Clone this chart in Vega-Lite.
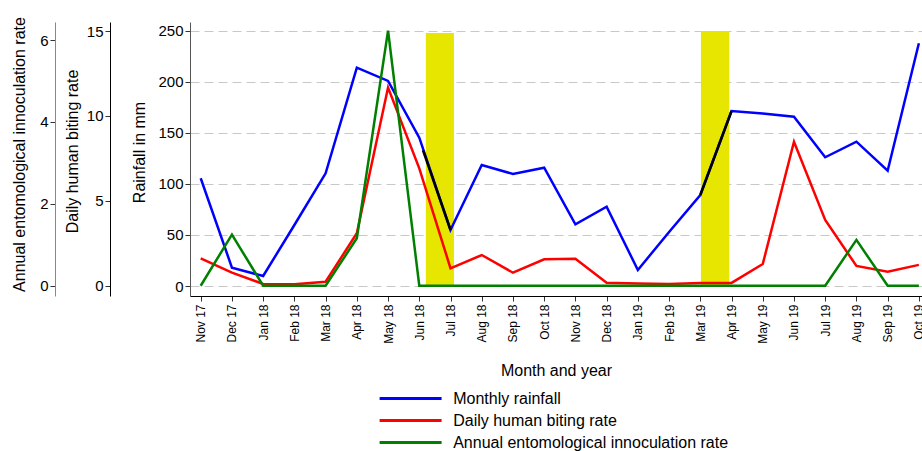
{
  "$schema": "https://vega.github.io/schema/vega-lite/v6.json",
  "width": 732,
  "height": 274,
  "autosize": {"type": "none"},
  "padding": {"left": 190, "top": 22, "right": 0, "bottom": 155},
  "config": {
    "font": "Liberation Sans",
    "view": {"stroke": null},
    "axis": {"labelColor": "#000", "titleColor": "#000", "tickColor": "#333", "titleFontWeight": "normal", "labelFont": "Liberation Sans", "titleFont": "Liberation Sans"},
    "legend": {"labelFont": "Liberation Sans"}
  },
  "datasets": {
    "rain": [
      {"t": 0, "series": "Monthly rainfall", "value": 105.6},
      {"t": 1, "series": "Monthly rainfall", "value": 18},
      {"t": 2, "series": "Monthly rainfall", "value": 9.8},
      {"t": 3, "series": "Monthly rainfall", "value": 59.8},
      {"t": 4, "series": "Monthly rainfall", "value": 110.5},
      {"t": 5, "series": "Monthly rainfall", "value": 214},
      {"t": 6, "series": "Monthly rainfall", "value": 201},
      {"t": 7, "series": "Monthly rainfall", "value": 145.4},
      {"t": 8, "series": "Monthly rainfall", "value": 54.9},
      {"t": 9, "series": "Monthly rainfall", "value": 118.6},
      {"t": 10, "series": "Monthly rainfall", "value": 109.8},
      {"t": 11, "series": "Monthly rainfall", "value": 116},
      {"t": 12, "series": "Monthly rainfall", "value": 60.5},
      {"t": 13, "series": "Monthly rainfall", "value": 77.7},
      {"t": 14, "series": "Monthly rainfall", "value": 15.7},
      {"t": 15, "series": "Monthly rainfall", "value": 53},
      {"t": 16, "series": "Monthly rainfall", "value": 89.2},
      {"t": 17, "series": "Monthly rainfall", "value": 171.6},
      {"t": 18, "series": "Monthly rainfall", "value": 169},
      {"t": 19, "series": "Monthly rainfall", "value": 166},
      {"t": 20, "series": "Monthly rainfall", "value": 126.2},
      {"t": 21, "series": "Monthly rainfall", "value": 141.5},
      {"t": 22, "series": "Monthly rainfall", "value": 113},
      {"t": 23, "series": "Monthly rainfall", "value": 238}
    ],
    "hbr": [
      {"t": 0, "series": "Daily human biting rate", "value": 1.63},
      {"t": 1, "series": "Daily human biting rate", "value": 0.78},
      {"t": 2, "series": "Daily human biting rate", "value": 0.12},
      {"t": 3, "series": "Daily human biting rate", "value": 0.1},
      {"t": 4, "series": "Daily human biting rate", "value": 0.25},
      {"t": 5, "series": "Daily human biting rate", "value": 3.1},
      {"t": 6, "series": "Daily human biting rate", "value": 11.67},
      {"t": 7, "series": "Daily human biting rate", "value": 6.92},
      {"t": 8, "series": "Daily human biting rate", "value": 1.04},
      {"t": 9, "series": "Daily human biting rate", "value": 1.82},
      {"t": 10, "series": "Daily human biting rate", "value": 0.78},
      {"t": 11, "series": "Daily human biting rate", "value": 1.57},
      {"t": 12, "series": "Daily human biting rate", "value": 1.6},
      {"t": 13, "series": "Daily human biting rate", "value": 0.19},
      {"t": 14, "series": "Daily human biting rate", "value": 0.14},
      {"t": 15, "series": "Daily human biting rate", "value": 0.12},
      {"t": 16, "series": "Daily human biting rate", "value": 0.18},
      {"t": 17, "series": "Daily human biting rate", "value": 0.18},
      {"t": 18, "series": "Daily human biting rate", "value": 1.29},
      {"t": 19, "series": "Daily human biting rate", "value": 8.49},
      {"t": 20, "series": "Daily human biting rate", "value": 3.88},
      {"t": 21, "series": "Daily human biting rate", "value": 1.18},
      {"t": 22, "series": "Daily human biting rate", "value": 0.84},
      {"t": 23, "series": "Daily human biting rate", "value": 1.24}
    ],
    "eir": [
      {"t": 0, "series": "Annual entomological innoculation rate", "value": 0},
      {"t": 1, "series": "Annual entomological innoculation rate", "value": 1.25},
      {"t": 2, "series": "Annual entomological innoculation rate", "value": 0},
      {"t": 3, "series": "Annual entomological innoculation rate", "value": 0},
      {"t": 4, "series": "Annual entomological innoculation rate", "value": 0},
      {"t": 5, "series": "Annual entomological innoculation rate", "value": 1.16},
      {"t": 6, "series": "Annual entomological innoculation rate", "value": 6.23},
      {"t": 7, "series": "Annual entomological innoculation rate", "value": 0},
      {"t": 8, "series": "Annual entomological innoculation rate", "value": 0},
      {"t": 9, "series": "Annual entomological innoculation rate", "value": 0},
      {"t": 10, "series": "Annual entomological innoculation rate", "value": 0},
      {"t": 11, "series": "Annual entomological innoculation rate", "value": 0},
      {"t": 12, "series": "Annual entomological innoculation rate", "value": 0},
      {"t": 13, "series": "Annual entomological innoculation rate", "value": 0},
      {"t": 14, "series": "Annual entomological innoculation rate", "value": 0},
      {"t": 15, "series": "Annual entomological innoculation rate", "value": 0},
      {"t": 16, "series": "Annual entomological innoculation rate", "value": 0},
      {"t": 17, "series": "Annual entomological innoculation rate", "value": 0},
      {"t": 18, "series": "Annual entomological innoculation rate", "value": 0},
      {"t": 19, "series": "Annual entomological innoculation rate", "value": 0},
      {"t": 20, "series": "Annual entomological innoculation rate", "value": 0},
      {"t": 21, "series": "Annual entomological innoculation rate", "value": 1.12},
      {"t": 22, "series": "Annual entomological innoculation rate", "value": 0},
      {"t": 23, "series": "Annual entomological innoculation rate", "value": 0}
    ],
    "highlight": [
      {"seg": "a", "t": 7.12, "value": 133},
      {"seg": "a", "t": 8, "value": 54.9},
      {"seg": "b", "t": 16, "value": 89.2},
      {"seg": "b", "t": 17, "value": 171.6}
    ],
    "bars": [
      {"t": 7.21, "t2": 8.11, "low": -1, "high": 248},
      {"t": 16.02, "t2": 16.93, "low": -1, "high": 250}
    ]
  },
  "encoding": {
    "x": {"field": "t", "type": "quantitative", "scale": {"domain": [-0.343, 23.1], "nice": false, "zero": false}, "axis": {
      "orient": "bottom",
      "values": [0,1,2,3,4,5,6,7,8,9,10,11,12,13,14,15,16,17,18,19,20,21,22,23],
      "labelExpr": "['Nov 17','Dec 17','Jan 18','Feb 18','Mar 18','Apr 18','May 18','Jun 18','Jul 18','Aug 18','Sep 18','Oct 18','Nov 18','Dec 18','Jan 19','Feb 19','Mar 19','Apr 19','May 19','Jun 19','Jul 19','Aug 19','Sep 19','Oct 19'][datum.value]",
      "labelAngle": -90,
      "labelOverlap": false,
      "labelBound": false,
      "labelFlush": false,
      "labelFontSize": 12,
      "labelPadding": 3,
      "tickSize": 5,
      "grid": false,
      "domainColor": "#000",
      "title": "Month and year",
      "titleFontSize": 16,
      "titlePadding": 19
    }}
  },
  "layer": [
    {
      "data": {"name": "bars"},
      "mark": {"type": "rect", "color": "#e6e600"},
      "encoding": {
        "x2": {"field": "t2"},
        "y": {"field": "low", "type": "quantitative", "scale": {"domain": [-9.8, 258.8], "nice": false, "zero": false}, "axis": null},
        "y2": {"field": "high"}
      }
    },
    {
      "data": {"name": "rain"},
      "mark": {"type": "line", "strokeWidth": 2.5},
      "encoding": {
        "y": {"field": "value", "type": "quantitative", "scale": {"domain": [-9.8, 258.8], "nice": false, "zero": false}, "axis": {
          "orient": "left", "offset": 0, "values": [0,50,100,150,200,250],
          "grid": true, "gridDash": [9,5], "gridColor": "#c8c8c8",
          "title": "Rainfall in mm", "titleFontSize": 16, "titlePadding": 10, "titleY": 130,
          "labelFontSize": 15, "labelPadding": 2, "tickSize": 5, "domainColor": "#555"
        }},
        "color": {"field": "series", "type": "nominal", "scale": {"domain": ["Monthly rainfall", "Daily human biting rate", "Annual entomological innoculation rate"], "range": ["#0000ff", "#ff0000", "#008000"]}, "legend": {
          "orient": "none", "legendX": 208.6, "legendY": 364.6, "title": null, "direction": "vertical",
          "symbolType": "M-3,0H3", "symbolSize": 427, "symbolStrokeWidth": 3,
          "labelFontSize": 16, "labelOffset": 30.6, "labelLimit": 0, "rowPadding": 2, "labelColor": "#000"
        }}
      }
    },
    {
      "data": {"name": "hbr"},
      "mark": {"type": "line", "strokeWidth": 2.5},
      "encoding": {
        "y": {"field": "value", "type": "quantitative", "scale": {"domain": [-0.59, 15.53], "nice": false, "zero": false}, "axis": {
          "orient": "left", "offset": 80, "values": [0,5,10,15], "grid": false,
          "title": "Daily human biting rate", "titleFontSize": 16, "titlePadding": 6, "titleY": 129,
          "labelFontSize": 15, "labelPadding": 2, "tickSize": 5, "domainColor": "#000"
        }},
        "color": {"field": "series", "type": "nominal"}
      }
    },
    {
      "data": {"name": "eir"},
      "mark": {"type": "line", "strokeWidth": 2.5},
      "encoding": {
        "y": {"field": "value", "type": "quantitative", "scale": {"domain": [-0.25, 6.44], "nice": false, "zero": false}, "axis": {
          "orient": "left", "offset": 135, "values": [0,2,4,6], "grid": false,
          "title": "Annual entomological innoculation rate", "titleFontSize": 16, "titlePadding": 12, "titleY": 132,
          "labelFontSize": 15, "labelPadding": 2, "tickSize": 5, "domainColor": "#888"
        }},
        "color": {"field": "series", "type": "nominal"}
      }
    },
    {
      "data": {"name": "highlight"},
      "mark": {"type": "line", "strokeWidth": 2.5, "color": "#000"},
      "encoding": {
        "y": {"field": "value", "type": "quantitative", "scale": {"domain": [-9.8, 258.8], "nice": false, "zero": false}, "axis": null},
        "detail": {"field": "seg"}
      }
    }
  ],
  "resolve": {"scale": {"y": "independent"}}
}
